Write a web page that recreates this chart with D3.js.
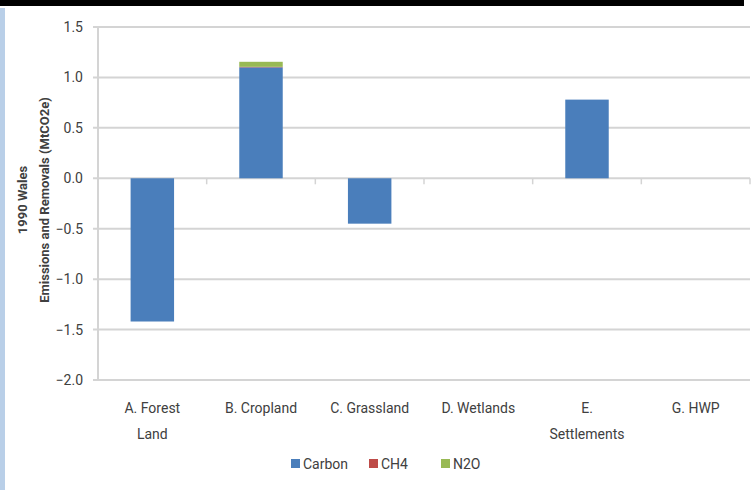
<!DOCTYPE html>
<html>
<head>
<meta charset="utf-8">
<script src="https://cdn.jsdelivr.net/npm/d3@7"></script>
<style>
  body { margin: 0; background: #fff; }
  text { font-family: "Liberation Sans Narrow", "Roboto", sans-serif; fill: #404040; }
</style>
</head>
<body>
<script>
// chart data
var categories = ["A. Forest Land", "B. Cropland", "C. Grassland", "D. Wetlands", "E. Settlements", "G. HWP"];
var categoryLines = [["A. Forest", "Land"], ["B. Cropland"], ["C. Grassland"], ["D. Wetlands"], ["E.", "Settlements"], ["G. HWP"]];
var seriesNames = ["Carbon", "CH4", "N2O"];
var carbon = [-1.42, 1.10, -0.45, 0, 0.78, 0];
var ch4 = [0, 0.005, 0, 0, 0, 0];
var n2o = [0, 0.05, 0, 0, 0, 0];
var yTicks = [1.5, 1.0, 0.5, 0.0, -0.5, -1.0, -1.5, -2.0];
var colors = ["#4a7ebb", "#be4b48", "#98b954"];

var w = 755, h = 490;
var plotLeft = 98, plotRight = 750, plotTop = 27, plotBottom = 380;

var svg = d3.select("body").append("svg")
    .attr("width", w)
    .attr("height", h);

// frame bits from the screenshot
svg.append("rect").attr("x", 0).attr("y", 0).attr("width", 744).attr("height", 6).attr("fill", "#000");
svg.append("rect").attr("x", 0).attr("y", 8).attr("width", 5).attr("height", h - 8).attr("fill", "#b9cfe8");

var x = d3.scaleBand().domain(categories).range([plotLeft, plotRight]).paddingInner(0.6).paddingOuter(0.3);
var xOuter = d3.scaleBand().domain(categories).range([plotLeft, plotRight]);
var y = d3.scaleLinear().domain([-2, 1.5]).range([plotBottom, plotTop]);

// gridlines
svg.append("g").selectAll("line")
    .data(yTicks)
    .enter().append("line")
    .attr("x1", plotLeft - 5).attr("x2", plotRight)
    .attr("y1", function(d) { return y(d); })
    .attr("y2", function(d) { return y(d); })
    .attr("stroke", "#d4d4d4")
    .attr("stroke-width", 2);

// y axis line
svg.append("line")
    .attr("x1", plotLeft).attr("x2", plotLeft)
    .attr("y1", plotTop).attr("y2", plotBottom)
    .attr("stroke", "#d4d4d4").attr("stroke-width", 2);

// y tick labels
svg.append("g").selectAll("text")
    .data(yTicks)
    .enter().append("text")
    .attr("x", plotLeft - 15)
    .attr("y", function(d) { return y(d) + 5; })
    .attr("text-anchor", "end")
    .style("font-size", "14px")
    .text(function(d) { return d3.format(".1f")(d); });

// stacked bars
var rows = categories.map(function(c, i) {
    return { cat: c, Carbon: carbon[i], CH4: ch4[i], N2O: n2o[i] };
});
var stack = d3.stack().keys(seriesNames).offset(d3.stackOffsetDiverging);
var layers = stack(rows);

svg.append("g").selectAll("g")
    .data(layers)
    .enter().append("g")
    .attr("fill", function(d, i) { return colors[i]; })
    .selectAll("rect")
    .data(function(d) { return d; })
    .enter().append("rect")
    .attr("x", function(d) { return x(d.data.cat); })
    .attr("width", x.bandwidth())
    .attr("y", function(d) { return y(Math.max(d[0], d[1])); })
    .attr("height", function(d) { return Math.abs(y(d[0]) - y(d[1])); });

// zero axis tick marks between categories
var tickPos = categories.map(function(c) { return xOuter(c); }).concat([plotRight]);
svg.append("g").selectAll("line")
    .data(tickPos.slice(1))
    .enter().append("line")
    .attr("x1", function(d) { return d; }).attr("x2", function(d) { return d; })
    .attr("y1", y(0)).attr("y2", y(0) + 6)
    .attr("stroke", "#d4d4d4").attr("stroke-width", 1.5);

// category labels
var catLabels = svg.append("g").selectAll("text")
    .data(categoryLines)
    .enter().append("text")
    .attr("text-anchor", "middle")
    .style("font-size", "14px")
    .attr("transform", function(d, i) {
        return "translate(" + (xOuter(categories[i]) + xOuter.bandwidth() / 2) + ",413)";
    });
catLabels.selectAll("tspan")
    .data(function(d) { return d; })
    .enter().append("tspan")
    .attr("x", 0)
    .attr("dy", function(d, i) { return i === 0 ? 0 : 26; })
    .text(function(d) { return d; });

// y axis title
var yTitle = svg.append("text")
    .attr("transform", "translate(27,200) rotate(-90)")
    .attr("text-anchor", "middle")
    .style("font-size", "13px")
    .style("font-weight", "bold");
yTitle.append("tspan").attr("x", 0).attr("dy", 0).text("1990 Wales");
yTitle.append("tspan").attr("x", 0).attr("dy", 22).text("Emissions and Removals (MtCO2e)");

// legend
var legendX = [291, 369, 441];
var legend = svg.append("g").selectAll("g")
    .data(seriesNames)
    .enter().append("g")
    .attr("transform", function(d, i) { return "translate(" + legendX[i] + ",459)"; });
legend.append("rect")
    .attr("width", 9).attr("height", 9)
    .attr("fill", function(d, i) { return colors[i]; });
legend.append("text")
    .attr("x", 12).attr("y", 10)
    .style("font-size", "14px")
    .text(function(d) { return d; });
</script>
</body>
</html>
